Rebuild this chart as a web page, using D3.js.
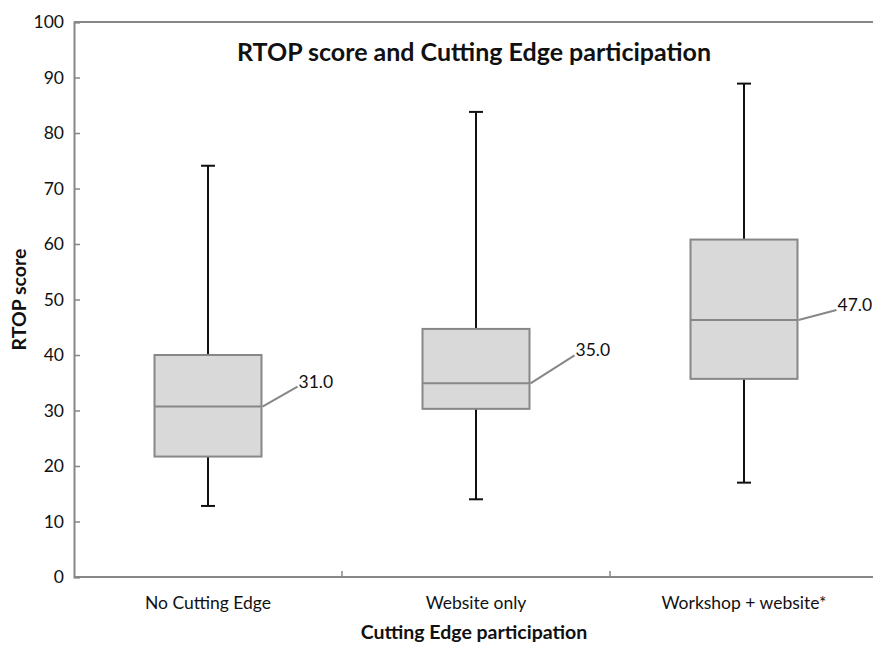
<!DOCTYPE html>
<html>
<head>
<meta charset="utf-8">
<script src="https://cdn.jsdelivr.net/npm/d3@7"></script>
<style>
  body { margin: 0; background: #fff; }
  text { font-family: Lato, "Open Sans", sans-serif; fill: #111; }
</style>
</head>
<body>
<div id="chart"></div>
<script>
// data
var categories = ["No Cutting Edge", "Website only", "Workshop + website*"];
var whiskerLow  = [12.8, 14.0, 17.0];
var boxLow      = [21.7, 30.3, 35.7];
var medians     = [30.7, 34.9, 46.3];
var boxHigh     = [40.0, 44.7, 60.8];
var whiskerHigh = [74.1, 83.8, 88.9];
var medianLabels = ["31.0", "35.0", "47.0"];
var yTicks = [0, 10, 20, 30, 40, 50, 60, 70, 80, 90, 100];

var width = 873, height = 645;
var margin = {top: 22, right: -5, bottom: 68, left: 74};
var iw = width - margin.left - margin.right,
    ih = height - margin.top - margin.bottom;

// leader line ends, relative to the box edge at the median
var labelOff = [[36, -20], [45, -28], [39, -10]];

var svg = d3.select("#chart").append("svg")
    .attr("width", width)
    .attr("height", height);

var g = svg.append("g")
    .attr("transform", "translate(" + margin.left + "," + margin.top + ")");

var x = d3.scaleBand().domain(categories).range([0, iw]).paddingInner(0).paddingOuter(0);
var y = d3.scaleLinear().domain([0, 100]).range([ih, 0]);

var boxW = 107, capW = 14;
var gray = "#878787";

// frame top line
g.append("line")
    .attr("x1", 0).attr("x2", iw)
    .attr("y1", 0).attr("y2", 0)
    .style("stroke", gray).style("stroke-width", 2);

// y axis
var yAxis = d3.axisLeft(y).tickValues(yTicks).tickSize(-6).tickPadding(10);
var ya = g.append("g").call(yAxis);
ya.select(".domain").style("stroke", gray).style("stroke-width", 2);
ya.selectAll(".tick line").style("stroke", gray).style("stroke-width", 1.5);
ya.selectAll(".tick text").style("font-size", "17.5px").style("fill", "#111")
    .style("font-family", "Lato, 'Open Sans', sans-serif");

// x axis: ticks at the category borders
var xa = g.append("g").attr("transform", "translate(0," + ih + ")");
xa.append("line")
    .attr("x1", 0).attr("x2", iw).attr("y1", 0).attr("y2", 0)
    .style("stroke", gray).style("stroke-width", 2);
xa.selectAll(".border").data(categories.slice(1)).enter().append("line")
    .attr("x1", function(d) { return x(d); })
    .attr("x2", function(d) { return x(d); })
    .attr("y1", 0).attr("y2", -6)
    .style("stroke", gray).style("stroke-width", 1.5);
xa.selectAll(".lab").data(categories).enter().append("text")
    .attr("x", function(d) { return x(d) + x.bandwidth() / 2; })
    .attr("y", 32)
    .attr("text-anchor", "middle")
    .style("font-size", "17.5px")
    .text(function(d) { return d; });

// boxes
categories.forEach(function(c, i) {
  var cx = x(c) + x.bandwidth() / 2;
  var bx = g.append("g");
  // whiskers
  bx.append("line").attr("x1", cx).attr("x2", cx)
      .attr("y1", y(whiskerHigh[i])).attr("y2", y(boxHigh[i]))
      .style("stroke", "#111").style("stroke-width", 2);
  bx.append("line").attr("x1", cx).attr("x2", cx)
      .attr("y1", y(boxLow[i])).attr("y2", y(whiskerLow[i]))
      .style("stroke", "#111").style("stroke-width", 2);
  bx.append("line").attr("x1", cx - capW / 2).attr("x2", cx + capW / 2)
      .attr("y1", y(whiskerHigh[i])).attr("y2", y(whiskerHigh[i]))
      .style("stroke", "#111").style("stroke-width", 2);
  bx.append("line").attr("x1", cx - capW / 2).attr("x2", cx + capW / 2)
      .attr("y1", y(whiskerLow[i])).attr("y2", y(whiskerLow[i]))
      .style("stroke", "#111").style("stroke-width", 2);
  // box
  bx.append("rect")
      .attr("x", cx - boxW / 2).attr("width", boxW)
      .attr("y", y(boxHigh[i])).attr("height", y(boxLow[i]) - y(boxHigh[i]))
      .style("fill", "#d9d9d9").style("stroke", gray).style("stroke-width", 2);
  bx.append("line")
      .attr("x1", cx - boxW / 2).attr("x2", cx + boxW / 2)
      .attr("y1", y(medians[i])).attr("y2", y(medians[i]))
      .style("stroke", gray).style("stroke-width", 2);
  // median label with leader line
  var lx = cx + boxW / 2, ly = y(medians[i]);
  bx.append("line")
      .attr("x1", lx + 1).attr("y1", ly)
      .attr("x2", lx + labelOff[i][0]).attr("y2", ly + labelOff[i][1])
      .style("stroke", gray).style("stroke-width", 2);
  bx.append("text")
      .attr("x", lx + labelOff[i][0] + 1)
      .attr("y", ly + labelOff[i][1] + 1)
      .style("font-size", "17.5px")
      .text(medianLabels[i]);
});

// titles
g.append("text")
    .attr("x", iw / 2 - 2).attr("y", 39)
    .attr("text-anchor", "middle")
    .style("font-size", "25px").style("font-weight", "bold")
    .text("RTOP score and Cutting Edge participation");

svg.append("text")
    .attr("x", margin.left + iw / 2 - 2).attr("y", 639)
    .attr("text-anchor", "middle")
    .style("font-size", "19.5px").style("font-weight", "bold")
    .text("Cutting Edge participation");

svg.append("text")
    .attr("transform", "translate(26," + (margin.top + ih / 2) + ") rotate(-90)")
    .attr("text-anchor", "middle")
    .style("font-size", "19.5px").style("font-weight", "bold")
    .text("RTOP score");
</script>
</body>
</html>
